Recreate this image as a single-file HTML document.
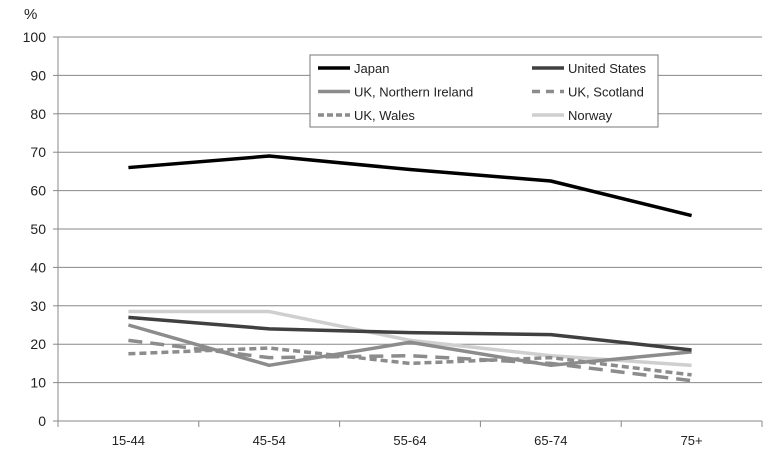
<!DOCTYPE html>
<html><head><meta charset="utf-8"><style>
body{margin:0;background:#fff;}
svg text{font-family:"Liberation Sans",sans-serif;fill:#222;}
</style></head><body>
<svg width="784" height="462" viewBox="0 0 784 462" xmlns="http://www.w3.org/2000/svg">
<g id="grid"></g>
<g id="yax"></g>
<g id="xax"></g>
<g id="series"></g>
<text x="24" y="19" font-size="15">%</text>
<g id="legend"></g>
</svg>
<script>
const categories=["15-44","45-54","55-64","65-74","75+"];
const yTicks=[0,10,20,30,40,50,60,70,80,90,100];
const japan=[66,69,65.5,62.5,53.5];
const unitedStates=[27,24,23,22.5,18.5];
const northernIreland=[25,14.5,20.5,14.5,18];
const scotland=[21,16.5,17,15,10.5];
const wales=[17.5,19,15,16.5,12];
const norway=[28.5,28.5,21,17,14.5];
const seriesNames=["Japan","United States","UK, Northern Ireland","UK, Scotland","UK, Wales","Norway"];

const NS="http://www.w3.org/2000/svg";
const X0=58,X1=762,Y0=421,Y1=37;
const band=(X1-X0)/categories.length;
const xs=i=>X0+band*(i+0.5);
const ys=v=>Y0-(v/100)*(Y0-Y1);
function mk(tag,attrs,parent){const e=document.createElementNS(NS,tag);for(const k in attrs)e.setAttribute(k,attrs[k]);parent.appendChild(e);return e;}
const grid=document.getElementById('grid'),yax=document.getElementById('yax'),xax=document.getElementById('xax'),ser=document.getElementById('series'),leg=document.getElementById('legend');
yTicks.forEach(t=>{
  if(t>0){const l=mk('line',{x1:X0,x2:X1,y1:ys(t),y2:ys(t),stroke:'#888','stroke-width':1},grid);
  
  }
  const tk=mk('line',{x1:X0-5,x2:X0,y1:ys(t),y2:ys(t),stroke:'#888'},yax);
  
  
  const tx=mk('text',{x:X0-12,y:ys(t)+5,'text-anchor':'end','font-size':14},yax);tx.textContent=t;
  
  
});
mk('line',{x1:X0,x2:X0,y1:Y1,y2:Y0,stroke:'#888'},yax);
mk('line',{x1:X0,x2:X1,y1:Y0,y2:Y0,stroke:'#888'},xax);
for(let i=0;i<=categories.length;i++){mk('line',{x1:X0+band*i,x2:X0+band*i,y1:Y0,y2:Y0+6,stroke:'#888'},xax);}
categories.forEach((c,i)=>{const t=mk('text',{x:xs(i),y:445,'text-anchor':'middle','font-size':13},xax);t.textContent=c;
  
  });
const styles=[
 {d:japan,c:'#000',w:3.5,da:''},
 {d:unitedStates,c:'#404040',w:3.5,da:''},
 {d:northernIreland,c:'#8c8c8c',w:3.5,da:''},
 {d:scotland,c:'#8c8c8c',w:3.5,da:'14 8'},
 {d:wales,c:'#8c8c8c',w:3.5,da:'7 4'},
 {d:norway,c:'#cfcfcf',w:3.5,da:''}];
const order=[5,2,3,4,1,0];
order.forEach(k=>{const s=styles[k];
  const p=mk('polyline',{points:s.d.map((v,i)=>xs(i)+','+ys(v)).join(' '),fill:'none',stroke:s.c,'stroke-width':s.w,'stroke-dasharray':s.da,'stroke-linejoin':'round'},ser);
  
  });
mk('rect',{x:310,y:55,width:348,height:72,fill:'#fff',stroke:'#777'},leg);
seriesNames.forEach((n,k)=>{const s=styles[k];const col=k%2,row=Math.floor(k/2);
  const lx=col?532:318,ly=68+row*23.5;
  const g=mk('g',{},leg);
  
  
  mk('line',{x1:lx,x2:lx+32,y1:ly,y2:ly,stroke:s.c,'stroke-width':3.5,'stroke-dasharray':k==3?'8 6':(k==4?'6 3':'')},g);
  const t=mk('text',{x:lx+36,y:ly+5,'font-size':13},g);t.textContent=n;});
</script>
</body></html>
